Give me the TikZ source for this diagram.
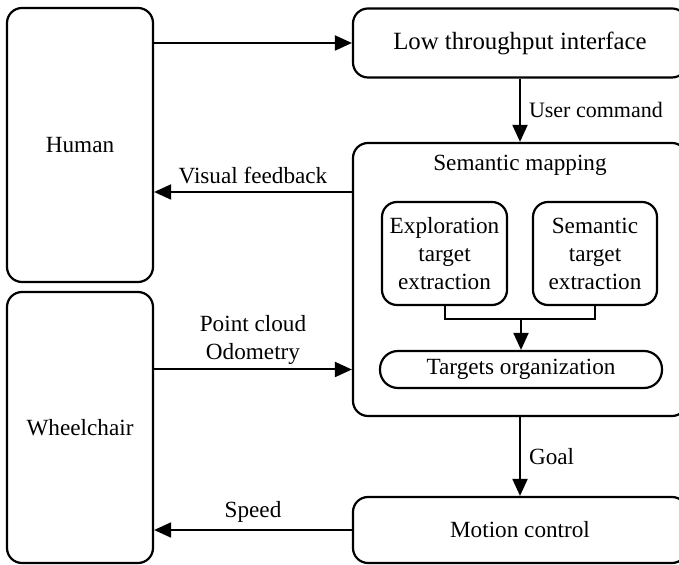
\documentclass[tikz,border=0pt]{standalone}
\usepackage{fontspec}
\setmainfont{Liberation Serif}
\usetikzlibrary{arrows.meta}

\begin{document}
\begin{tikzpicture}[
	x=0.5pt, y=-0.5pt,
	font=\fontsize{11.6}{14}\selectfont,
	block/.style={draw, line width=1.1pt, rounded corners=7.5pt, align=center, inner sep=0pt},
	link/.style={line width=1pt, -{Triangle[length=8.5pt, width=7.5pt]}},
	wire/.style={line width=1pt},
]
	\clip (0, 0) rectangle (679, 565);

	% Agents on the left
	\node[block, minimum width=73pt, minimum height=137pt] (human) at (80, 145) {Human};
	\node[block, minimum width=73pt, minimum height=135.5pt] (wheelchair) at (80, 427.5) {Wheelchair};

	% Modules on the right (they run past the right edge)
	\node[block, minimum width=167pt, minimum height=34.5pt, font=\fontsize{12.4}{14}\selectfont] (lti) at (520, 43) {Low throughput interface};
	\node[block, minimum width=167pt, minimum height=136.5pt] (semmap) at (520, 279.5) {};
	\node[anchor=north, inner sep=6.5pt] (semtitle) at (semmap.north) {Semantic mapping};
	\node[block, minimum width=167pt, minimum height=33pt] (motion) at (520, 530) {Motion control};

	% Inside the semantic mapping block
	\foreach \n/\x/\w/\txt in {expl/444.5/62.5/Exploration, semt/595/62/Semantic} {
		\node[block, minimum width=\w pt, minimum height=51.5pt] (\n) at (\x, 253.5) {\txt\\target\\extraction};
	}
	\node[block, rounded corners=9pt, minimum width=141pt, minimum height=18.5pt] (targ) at (521, 369.5) {Targets organization};
	\coordinate (join) at (521, 319);
	\draw[wire] (expl.south) |- (join) -| (semt.south);
	\draw[link] (join) -- (targ.north);

	% Connections between the blocks
	\coordinate (fb) at (353, 192);
	\draw[link] (human.east |- lti.west) -- (lti.west);
	\draw[link] (lti.south) -- (semmap.north) node[midway, right, inner sep=4pt, font=\fontsize{11}{13}\selectfont] {User command};
	\draw[link] (semmap.west |- fb) -- (human.east |- fb) node[midway, above] {Visual feedback};
	\draw[link] (wheelchair.east |- targ) -- (semmap.west |- targ) node[midway, above, align=center, inner sep=2pt] {Point cloud\\Odometry};
	\draw[link] (semmap.south) -- (motion.north) node[midway, right, inner sep=4pt] {Goal};
	\draw[link] (motion.west) -- (wheelchair.east |- motion.west) node[midway, above] {Speed};
\end{tikzpicture}
\end{document}
